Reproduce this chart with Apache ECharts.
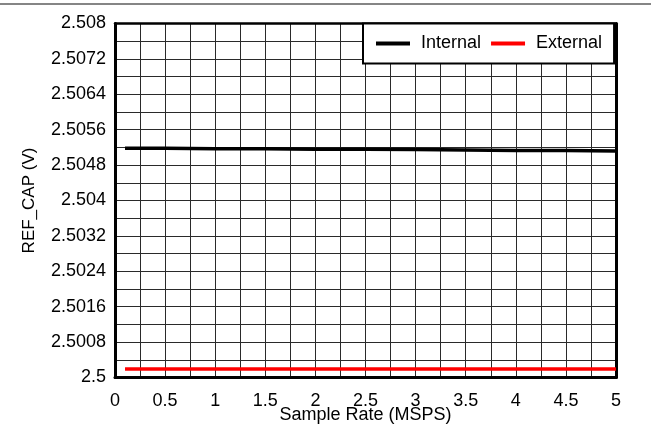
<!DOCTYPE html>
<html>
<head>
<meta charset="utf-8">
<script src="https://cdn.jsdelivr.net/npm/echarts@6/dist/echarts.min.js"></script>
<style>
html,body{margin:0;padding:0;background:#fff;}
#chart{width:651px;height:428px;}
</style>
</head>
<body>
<div id="chart"></div>
<script>
const sampleRate = [0.1, 0.5, 1, 1.5, 2, 2.5, 3, 3.5, 4, 4.5, 5];
const internalV = [2.50518, 2.50518, 2.50517, 2.50517, 2.50516, 2.50516, 2.50515, 2.50514, 2.50513, 2.50513, 2.50512];
const externalV = [2.50019, 2.50019, 2.50019, 2.50019, 2.50019, 2.50019, 2.50019, 2.50019, 2.50019, 2.50019, 2.50019];
const seriesNames = ['Internal', 'External'];
const xName = 'Sample Rate (MSPS)';
const yName = 'REF_CAP (V)';

const font = 'Liberation Sans, Arial, sans-serif';
const chart = echarts.init(document.getElementById('chart'), null, {renderer: 'canvas'});
const pair = (xs, ys) => xs.map((x, i) => [x, ys[i]]);

const gridLine = {show: true, lineStyle: {color: '#2a2a2a', width: 1}};
chart.setOption({
  animation: false,
  backgroundColor: '#fff',
  graphic: [{
    type: 'rect', shape: {x: 0, y: 3, width: 651, height: 2},
    style: {fill: '#858585'}
  }],
  grid: {left: 115, right: 35, top: 23.5, bottom: 50.5, containLabel: false, outerBoundsMode: 'none'},
  legend: {
    left: 363, top: 23.5,
    padding: [11, 12, 11, 13],
    borderColor: '#000', borderWidth: 2,
    backgroundColor: '#fff',
    itemWidth: 34, itemHeight: 4, itemGap: 10,
    icon: 'rect',
    textStyle: {fontFamily: font, fontSize: 18, color: '#000', padding: [0, 0, 0, 6]},
    data: seriesNames
  },
  xAxis: [{
    type: 'value', min: 0, max: 5, interval: 0.5,
    name: xName, nameLocation: 'middle', nameGap: 29, nameMoveOverlap: false,
    nameTextStyle: {fontFamily: font, fontSize: 18, color: '#000'},
    axisLine: {show: true, onZero: false, lineStyle: {color: '#000', width: 3}},
    axisTick: {show: false},
    axisLabel: {fontFamily: font, fontSize: 18, color: '#000', margin: 15},
    splitLine: gridLine,
    minorTick: {show: false, splitNumber: 2},
    minorSplitLine: gridLine
  }, {
    type: 'value', min: 0, max: 5, position: 'top',
    axisLine: {show: true, onZero: false, lineStyle: {color: '#000', width: 2.5}},
    axisTick: {show: false}, axisLabel: {show: false}, splitLine: {show: false}
  }],
  yAxis: [{
    type: 'value', min: 2.5, max: 2.508, interval: 0.0008,
    name: yName, nameLocation: 'middle', nameGap: 77, nameMoveOverlap: false,
    nameTextStyle: {fontFamily: font, fontSize: 17, color: '#000'},
    axisLine: {show: true, onZero: false, lineStyle: {color: '#000', width: 3}},
    axisTick: {show: false},
    axisLabel: {fontFamily: font, fontSize: 18, color: '#000', margin: 9,
      formatter: v => String(parseFloat(v.toFixed(4)))},
    splitLine: gridLine,
    minorTick: {show: false, splitNumber: 2},
    minorSplitLine: gridLine
  }, {
    type: 'value', min: 2.5, max: 2.508, position: 'right',
    axisLine: {show: true, onZero: false, lineStyle: {color: '#000', width: 3}},
    axisTick: {show: false}, axisLabel: {show: false}, splitLine: {show: false}
  }],
  series: [{
    name: seriesNames[0], type: 'line', data: pair(sampleRate, internalV),
    showSymbol: false, symbol: 'none', color: '#000',
    lineStyle: {color: '#000', width: 3.5}, z: 5
  }, {
    name: seriesNames[1], type: 'line', data: pair(sampleRate, externalV),
    showSymbol: false, symbol: 'none', color: '#ff0000',
    lineStyle: {color: '#ff0000', width: 3.5}, z: 5
  }]
});
</script>
</body>
</html>
